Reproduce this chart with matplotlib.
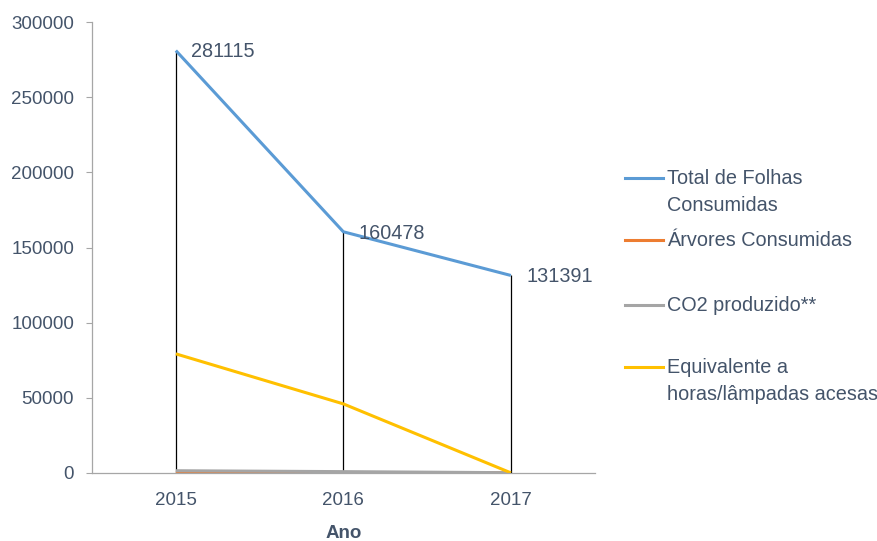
import matplotlib
matplotlib.use("Agg")
import matplotlib.pyplot as plt
from matplotlib.lines import Line2D

# data
anos = ["2015", "2016", "2017"]
folhas = [281115, 160478, 131391]
arvores = [34, 19, 16]
co2 = [1400, 800, 100]
lampadas = [79200, 45900, 0]

nomes = ["Total de Folhas\nConsumidas", "Árvores Consumidas",
         "CO2 produzido**", "Equivalente a\nhoras/lâmpadas acesas"]
cores = ["#5B9BD5", "#ED7D31", "#A5A5A5", "#FFC000"]
yticks = [0, 50000, 100000, 150000, 200000, 250000, 300000]

TXT = "#44546A"
plt.rcParams["font.family"] = ["Liberation Sans", "DejaVu Sans"]

fig = plt.figure(figsize=(8.77, 5.41), dpi=100)
ax = fig.add_axes([0.105, 0.126, 0.573, 0.833])

x = list(range(len(anos)))
series = [folhas, arvores, co2, lampadas]

# drop lines from the highest point down to the axis
topo = [max(v) for v in zip(*series)]
ax.vlines(x, 0, topo, color="black", lw=0.9, zorder=1)

for vals, cor in zip(series, cores):
    ax.plot(x, vals, color=cor, lw=2.2, solid_capstyle="butt", zorder=2)

for xi, v in zip(x, folhas):
    ax.annotate(str(v), (xi, v), xytext=(11, -1), textcoords="offset points",
                va="center", ha="left", fontsize=14.3, color=TXT)

ax.set_xlim(-0.5, 2.5)
ax.set_ylim(0, 300000)
ax.set_xticks(x)
ax.set_xticklabels(anos)
ax.set_yticks(yticks)
ax.set_yticklabels([str(t) for t in yticks])
ax.tick_params(axis="y", length=4, width=0.8, color="#A6A6A6", labelsize=13.5,
               labelcolor=TXT, pad=9)
ax.tick_params(axis="x", length=0, labelsize=13.5, labelcolor=TXT, pad=14)
for s in ["top", "right"]:
    ax.spines[s].set_visible(False)
for s in ["left", "bottom"]:
    ax.spines[s].set_color("#A6A6A6")
    ax.spines[s].set_linewidth(0.9)
ax.set_xlabel("Ano", fontsize=13.5, fontweight="bold", color=TXT, labelpad=11)

# legend drawn by hand so the line sits on the first text row
ys = [178, 240, 305, 367]
for nome, cor, yp in zip(nomes, cores, ys):
    yf = 1 - yp / 541
    fig.add_artist(Line2D([625 / 877, 663 / 877], [yf, yf], color=cor, lw=2.2,
                          transform=fig.transFigure))
    fig.text(667 / 877, yf + 9 / 541, nome, ha="left", va="top",
             fontsize=14.3, color=TXT, linespacing=1.55)

fig.savefig("out.png", dpi=100)
